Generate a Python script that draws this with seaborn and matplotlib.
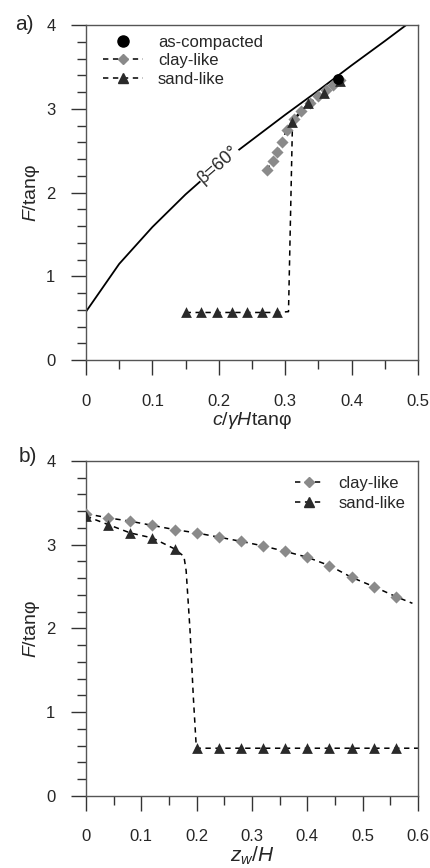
import numpy as np
import pandas as pd
import matplotlib
matplotlib.use("Agg")
import matplotlib.pyplot as plt
from matplotlib.lines import Line2D
from matplotlib.ticker import MultipleLocator
import seaborn as sns

# --- data, panel a ---
beta_x = [0, 0.05, 0.1, 0.15, 0.2, 0.25, 0.3, 0.35, 0.4, 0.45, 0.482]
beta_y = [0.58, 1.15, 1.59, 1.98, 2.33, 2.63, 2.93, 3.22, 3.52, 3.81, 4.0]

compacted_x = [0.379]
compacted_y = [3.355]

clay_a_x = [0.272, 0.281, 0.288, 0.295, 0.302, 0.313, 0.324, 0.337, 0.350, 0.362, 0.372, 0.382]
clay_a_y = [2.27, 2.38, 2.49, 2.61, 2.75, 2.88, 2.98, 3.07, 3.15, 3.23, 3.29, 3.34]

sand_a_x = [0.150, 0.173, 0.197, 0.220, 0.243, 0.265, 0.288, 0.311, 0.335, 0.359, 0.382]
sand_a_y = [0.57, 0.57, 0.57, 0.57, 0.57, 0.57, 0.57, 2.84, 3.07, 3.19, 3.33]
sand_a_line_x = [0.150, 0.288, 0.305, 0.308, 0.311, 0.335, 0.359, 0.382]
sand_a_line_y = [0.57, 0.57, 0.58, 1.70, 2.84, 3.07, 3.19, 3.33]

# --- data, panel b ---
zw = [0, 0.04, 0.08, 0.12, 0.16, 0.2, 0.24, 0.28, 0.32, 0.36, 0.4, 0.44, 0.48, 0.52, 0.56]
clay_b_y = [3.37, 3.32, 3.28, 3.23, 3.18, 3.14, 3.09, 3.04, 2.985, 2.92, 2.85, 2.75, 2.61, 2.50, 2.38]
sand_b_y = [3.34, 3.24, 3.14, 3.08, 2.95, 0.57, 0.57, 0.57, 0.57, 0.57, 0.57, 0.57, 0.57, 0.57, 0.57]
clay_b_line_x = zw + [0.59]
clay_b_line_y = clay_b_y + [2.30]
sand_b_line_x = [0, 0.04, 0.08, 0.12, 0.16, 0.177, 0.181, 0.188, 0.194, 0.199, 0.2, 0.6]
sand_b_line_y = [3.34, 3.24, 3.14, 3.08, 2.95, 2.86, 2.69, 1.98, 1.18, 0.62, 0.57, 0.57]

sns.set_style("ticks")
plt.rcParams['font.family'] = ['Liberation Sans', 'DejaVu Sans']
plt.rcParams['mathtext.fontset'] = 'custom'
plt.rcParams['mathtext.rm'] = 'Liberation Sans'
plt.rcParams['mathtext.it'] = 'Liberation Sans:italic'

GREY = '#8a8a8a'
DARK = '#2a2a2a'
DASH = (0, (3.5, 3))

fig = plt.figure(figsize=(4.3, 8.68), dpi=100)
ax_a = fig.add_axes([0.2, 0.585, 0.772, 0.386])
ax_b = fig.add_axes([0.2, 0.083, 0.772, 0.386])


def style_axis(ax, xmax, xmajor):
    ax.set_ylim(0, 4)
    ax.set_xlim(0, xmax)
    ax.xaxis.set_major_locator(MultipleLocator(xmajor))
    ax.xaxis.set_minor_locator(MultipleLocator(xmajor / 2))
    ax.yaxis.set_major_locator(MultipleLocator(1))
    ax.yaxis.set_minor_locator(MultipleLocator(0.2))
    ax.tick_params(which='both', direction='out', top=False, right=False,
                   color='#333333', width=1.0, labelsize=12)
    ax.tick_params(which='major', length=11)
    ax.tick_params(which='minor', length=6.5)
    ax.tick_params(axis='y', which='major', pad=11)
    ax.tick_params(axis='x', which='major', pad=13)
    for s in ax.spines.values():
        s.set_color('#555555')
        s.set_linewidth(1.0)
    ax.set_ylabel(r'$F$/tanφ', fontsize=14, labelpad=3)
    ax.xaxis.set_major_formatter(plt.FuncFormatter(lambda v, p: f'{v:g}'))
    ax.yaxis.set_major_formatter(plt.FuncFormatter(lambda v, p: f'{v:g}'))


# panel a
sns.lineplot(x=beta_x, y=beta_y, color='black', lw=1.3, sort=False, ax=ax_a)
sns.lineplot(x=clay_a_x, y=clay_a_y, color='black', lw=1.1, linestyle=DASH, sort=False, ax=ax_a)
sns.lineplot(x=sand_a_line_x, y=sand_a_line_y, color='black', lw=1.1, linestyle=DASH, sort=False, ax=ax_a)
sns.scatterplot(x=clay_a_x, y=clay_a_y, marker='D', s=38, color=GREY, edgecolor=GREY, linewidth=0, ax=ax_a, zorder=3)
sns.scatterplot(x=sand_a_x, y=sand_a_y, marker='^', s=60, color=DARK, edgecolor=DARK, linewidth=0, ax=ax_a, zorder=4)
sns.scatterplot(x=compacted_x, y=compacted_y, marker='o', s=60, color='black', edgecolor='black', linewidth=0, ax=ax_a, zorder=5)
ax_a.text(0.199, 2.34, 'β=60°', rotation=41, rotation_mode='anchor', ha='center', va='center',
          fontsize=13, bbox=dict(facecolor='white', edgecolor='none', pad=0.3), zorder=4)
style_axis(ax_a, 0.5, 0.1)
ax_a.set_xlabel(r'$c$/$\gamma H$tanφ', fontsize=14, labelpad=1)

h_comp = Line2D([], [], marker='o', ms=8, color='black', linestyle='none')
h_clay = Line2D([], [], marker='D', ms=5.5, color='black', mfc=GREY, mec=GREY, linestyle=DASH, lw=1.1)
h_sand = Line2D([], [], marker='^', ms=7, color='black', mfc=DARK, mec=DARK, linestyle=DASH, lw=1.1)
ax_a.legend([h_comp, h_clay, h_sand], ['as-compacted', 'clay-like', 'sand-like'], loc='upper left',
            bbox_to_anchor=(0.051, 0.972), frameon=False, fontsize=12, handlelength=2.4,
            handletextpad=0.9, labelspacing=0.22, borderaxespad=0, borderpad=0)

# panel b
sns.lineplot(x=clay_b_line_x, y=clay_b_line_y, color='black', lw=1.1, linestyle=DASH, sort=False, ax=ax_b)
sns.lineplot(x=sand_b_line_x, y=sand_b_line_y, color='black', lw=1.1, linestyle=DASH, sort=False, ax=ax_b)
sns.scatterplot(x=zw, y=clay_b_y, marker='D', s=38, color=GREY, edgecolor=GREY, linewidth=0, ax=ax_b, zorder=3)
sns.scatterplot(x=zw, y=sand_b_y, marker='^', s=60, color=DARK, edgecolor=DARK, linewidth=0, ax=ax_b, zorder=4)
style_axis(ax_b, 0.6, 0.1)
ax_b.set_xlabel(r'$z_w$/$H$', fontsize=15, labelpad=0)
ax_b.legend([h_clay, h_sand], ['clay-like', 'sand-like'], loc='upper right',
            bbox_to_anchor=(0.961, 0.955), frameon=False, fontsize=12, handlelength=1.7,
            handletextpad=0.9, labelspacing=0.3, borderaxespad=0, borderpad=0)

fig.text(24 / 430, 1 - 24 / 868, 'a)', fontsize=15, ha='center', va='center')
fig.text(28 / 430, 1 - 457 / 868, 'b)', fontsize=15, ha='center', va='center')

fig.savefig('out.png', dpi=100)
